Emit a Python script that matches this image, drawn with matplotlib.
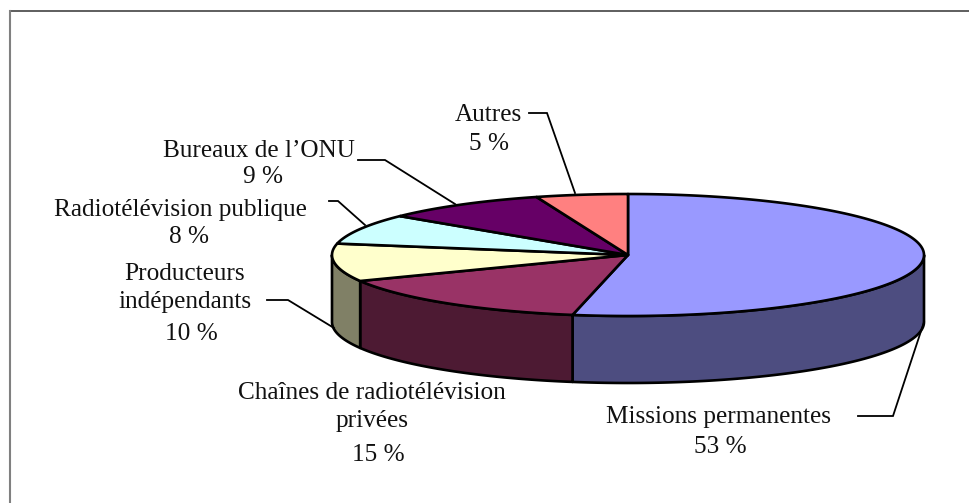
import numpy as np
import matplotlib
matplotlib.use('Agg')
import matplotlib.pyplot as plt
from matplotlib.patches import Polygon

plt.rcParams['font.family'] = ['Liberation Serif', 'DejaVu Serif']

categories = ['Missions permanentes', 'Chaînes de radiotélévision\nprivées',
              'Producteurs\nindépendants', 'Radiotélévision publique',
              'Bureaux de l’ONU', 'Autres']
shares = [53, 15, 10, 8, 9, 5]
share_labels = ['53 %', '15 %', '10 %', '8 %', '9 %', '5 %']
top_colors = ['#9999ff', '#993366', '#ffffcc', '#ccffff', '#660066', '#ff8080']
side_colors = ['#4d4d80', '#4d1a33', '#808066', '#668080', '#330033', '#804040']

# pie geometry in pixels
cx, cy = 628, 255
rx, ry = 296, 61
depth = 67


def rim(a0, a1, dy=0):
    # angles clockwise from the top, in degrees
    t = np.radians(np.linspace(a0, a1, 200))
    return np.column_stack([cx + rx * np.sin(t), cy - ry * np.cos(t) + dy])


fig = plt.figure(figsize=(9.69, 5.03), dpi=100)
ax = fig.add_axes([0, 0, 1, 1])
ax.set_xlim(0, 969)
ax.set_ylim(503, 0)
ax.axis('off')

# the frame only shows on the top and left
ax.plot([10, 969], [11, 11], color='#333333', lw=1.1)
ax.plot([10, 10], [10.5, 503], color='#808080', lw=1.5)

edges = np.cumsum([0] + shares) / sum(shares) * 360

# side walls first, only the front half of the rim is visible
for i in range(len(shares)):
    a0, a1 = max(edges[i], 90), min(edges[i + 1], 270)
    if a1 <= a0:
        continue
    top = rim(a0, a1)
    bottom = rim(a0, a1, depth)
    ax.add_patch(Polygon(np.vstack([top, bottom[::-1]]), closed=True,
                         fc=side_colors[i], ec='black', lw=1.9, joinstyle='round'))

# top faces
for i in range(len(shares)):
    pts = np.vstack([[cx, cy], rim(edges[i], edges[i + 1])])
    ax.add_patch(Polygon(pts, closed=True, fc=top_colors[i], ec='black', lw=1.9,
                         joinstyle='round'))

# leader lines
leaders = [
    ([858, 893, 924], [416, 416, 322]),
    ([267, 288, 334], [300, 300, 328]),
    ([329, 338, 365], [201, 201, 225]),
    ([358, 385, 455], [160, 160, 204]),
    ([529, 547, 575], [113, 113, 193]),
]
for xs, ys in leaders:
    ax.plot(xs, ys, color='black', lw=1.3, solid_joinstyle='miter')

# labels
fs = 18.2
name_pos = [(719, 417), (372, 407), (185, 288), (180, 210), (259, 151), (488, 115)]
share_pos = [(720, 447), (378, 455), (191, 334), (189, 237), (263, 177), (489, 144)]
for name, (x, y) in zip(categories, name_pos):
    ax.text(x, y, name, ha='center', va='center', fontsize=fs, color='#111111',
            linespacing=1.4)
for lab, (x, y) in zip(share_labels, share_pos):
    ax.text(x, y, lab, ha='center', va='center', fontsize=fs, color='#111111')

fig.savefig('out.png', dpi=100)
